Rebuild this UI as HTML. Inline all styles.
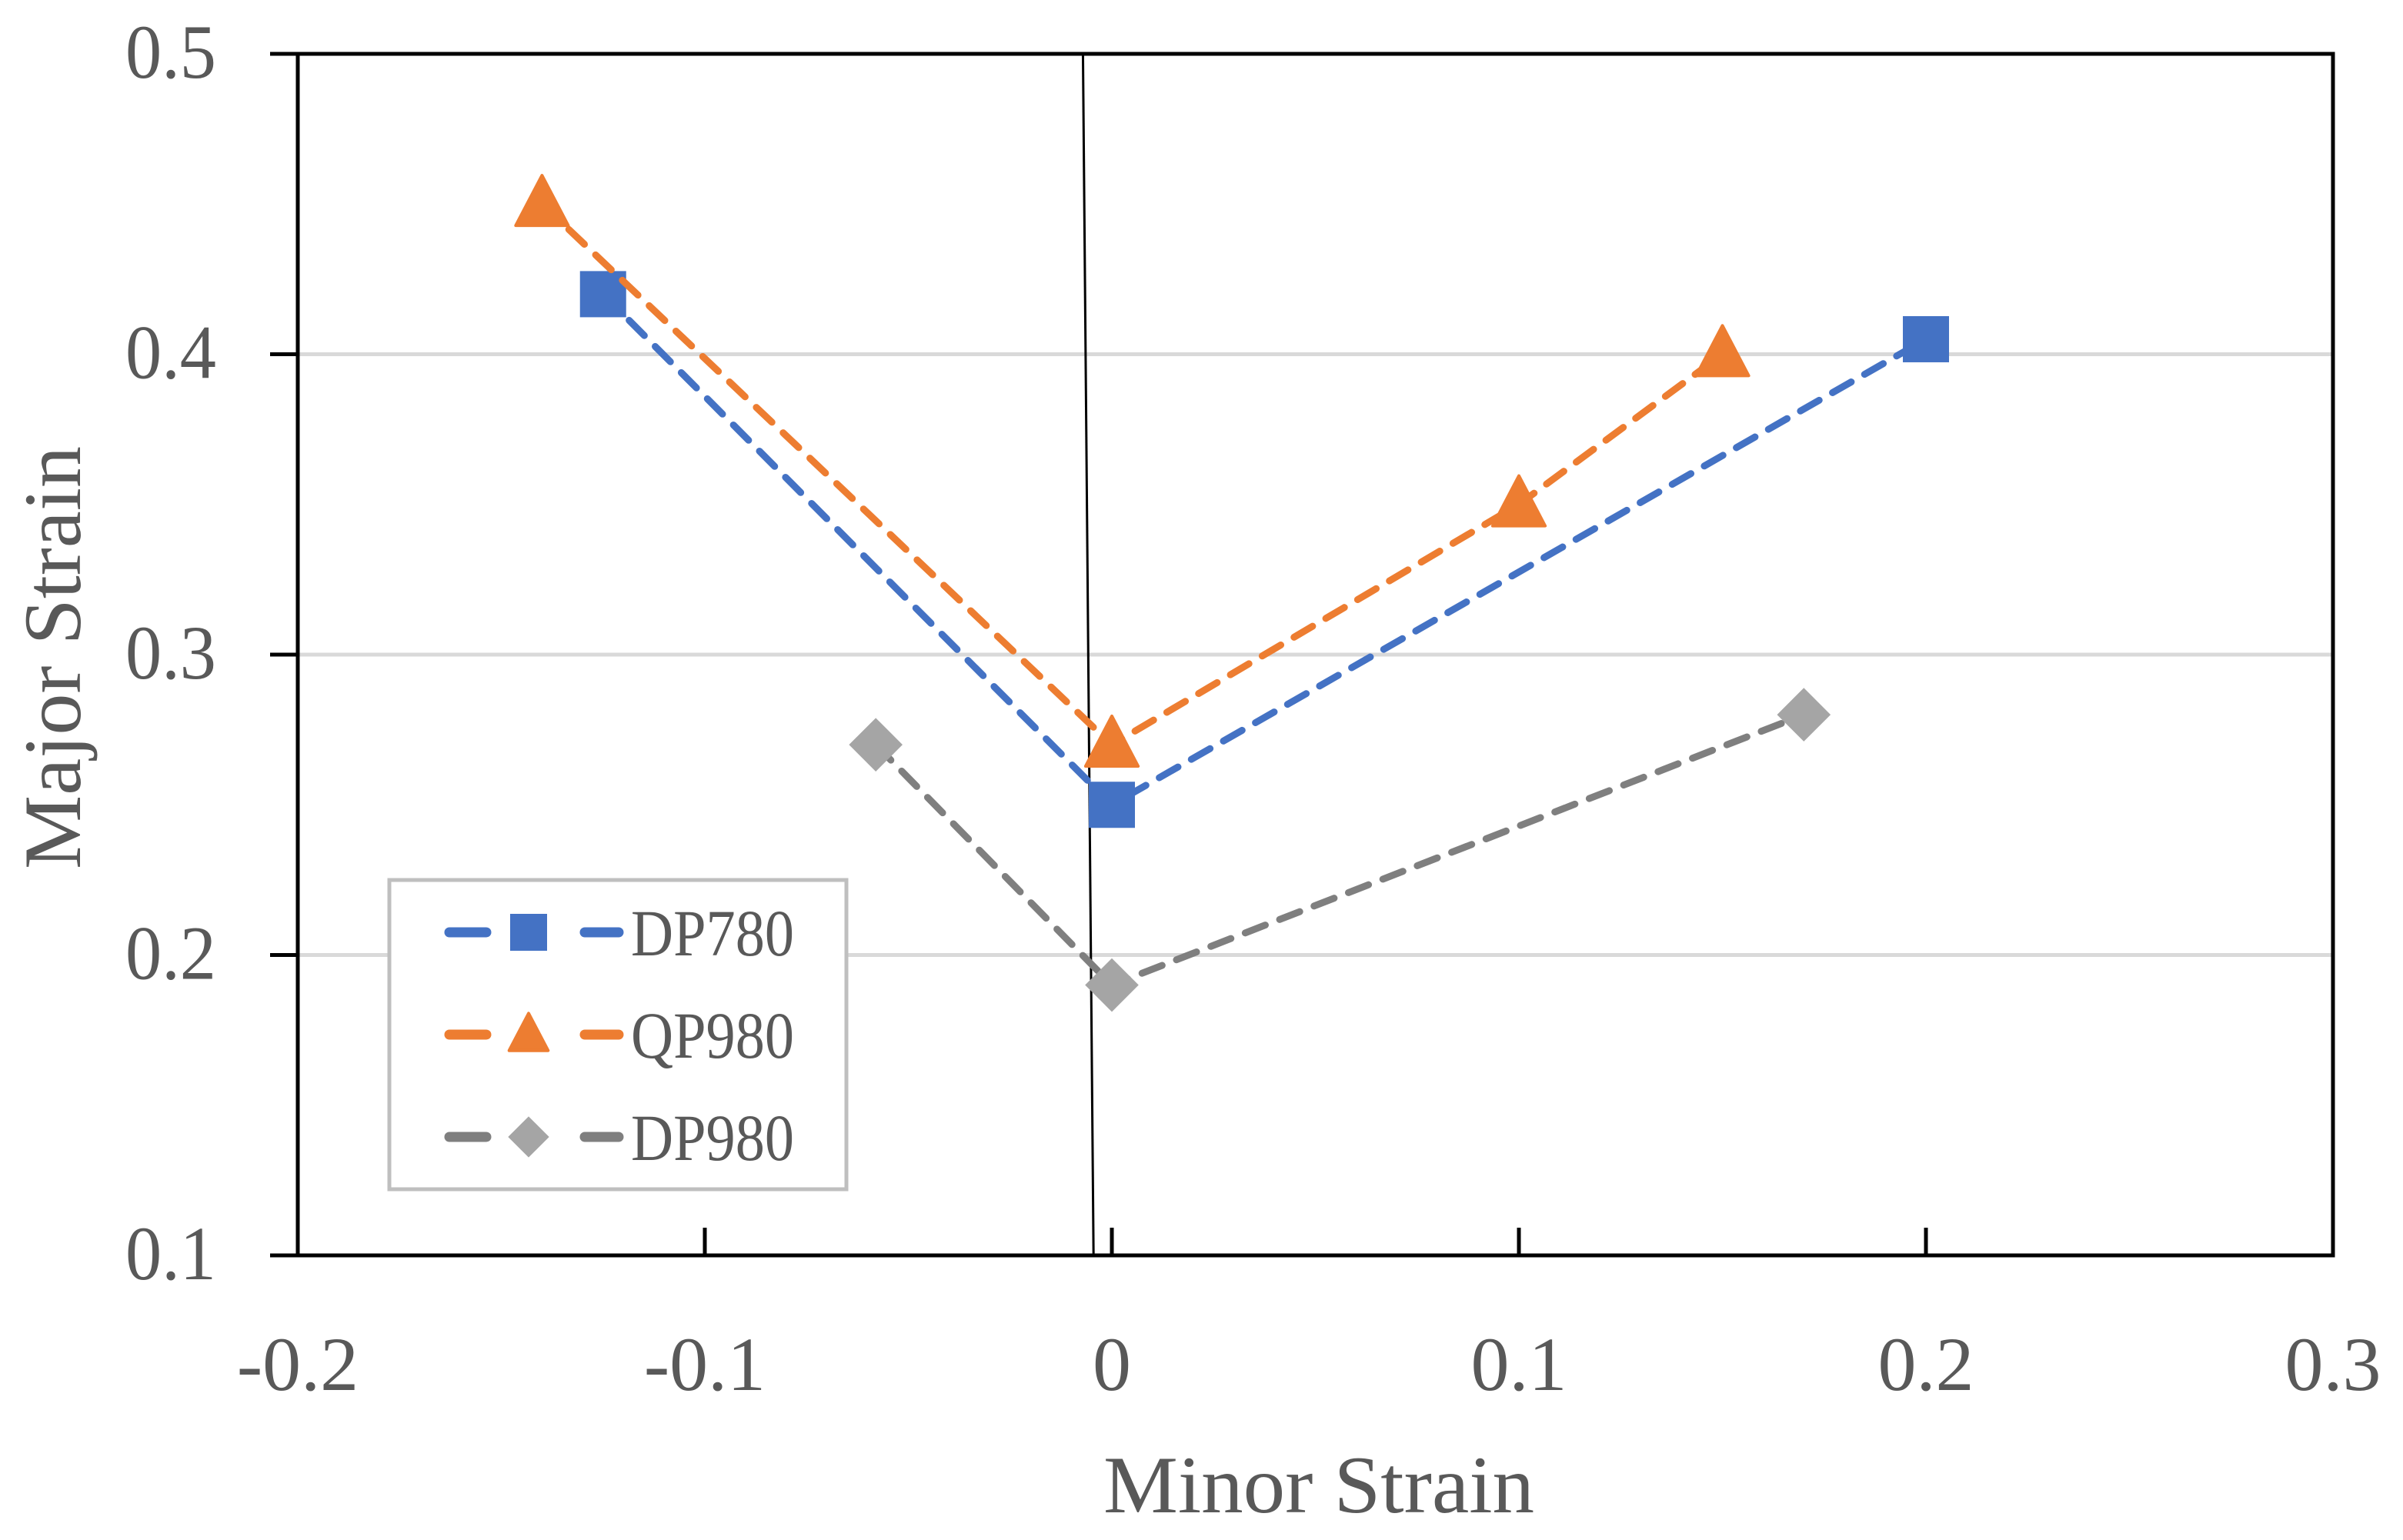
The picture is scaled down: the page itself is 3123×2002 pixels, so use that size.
<!DOCTYPE html>
<html><head><meta charset="utf-8"><style>
html,body{margin:0;padding:0;background:#fff}
svg{display:block}
text{font-family:"Liberation Serif",serif;fill:#595959}
</style></head><body>
<svg id="chart" width="3123" height="2002" viewBox="0 0 3123 2002" xmlns="http://www.w3.org/2000/svg">
<g id="grid"></g>
<g id="axes"></g>
<g id="series"></g>
<text x="1714" y="1966" font-size="106" text-anchor="middle" textLength="560" lengthAdjust="spacingAndGlyphs">Minor Strain</text>
<text x="0" y="0" font-size="106" text-anchor="middle" textLength="550" lengthAdjust="spacingAndGlyphs" transform="translate(104,855) rotate(-90)">Major Strain</text>
<g>
<rect x="506" y="1144" width="594" height="402" fill="#fff" stroke="#bfbfbf" stroke-width="5"/>
<g id="legend"></g>
</g>
</svg>
<script>
const xTicks=[-0.2,-0.1,0,0.1,0.2,0.3];
const xTickLabels=["-0.2","-0.1","0","0.1","0.2","0.3"];
const yTicks=[0.1,0.2,0.3,0.4,0.5];
const yTickLabels=["0.1","0.2","0.3","0.4","0.5"];
const seriesNames=["DP780","QP980","DP980"];
const dp780X=[-0.125,0,0.2];
const dp780Y=[0.42,0.25,0.405];
const qp980X=[-0.14,0,0.1,0.15];
const qp980Y=[0.45,0.27,0.35,0.40];
const dp980X=[-0.058,0,0.17];
const dp980Y=[0.27,0.19,0.28];
const refLineX=[-0.0071,-0.0045];
const refLineY=[0.5,0.1];

const L=387,R=3032,T=70,B=1632;
const xs=v=>L+(v+0.2)/0.5*(R-L);
const ys=v=>B-(v-0.1)/0.4*(B-T);
const NS="http://www.w3.org/2000/svg";
function mk(tag,attrs,parent){const e=document.createElementNS(NS,tag);for(const k in attrs)e.setAttribute(k,attrs[k]);parent.appendChild(e);return e;}
const grid=document.getElementById('grid'),axes=document.getElementById('axes'),ser=document.getElementById('series'),leg=document.getElementById('legend');

yTicks.forEach((t,i)=>{
  if(t>0.1&&t<0.5){const g=mk('line',{x1:L,x2:R,y1:ys(t),y2:ys(t),stroke:'#d9d9d9','stroke-width':5},grid);
  
  }
  const tk=mk('line',{x1:L-36,x2:L,y1:ys(t),y2:ys(t),stroke:'#000','stroke-width':5},axes);
  
  
  const lb=mk('text',{x:281,y:ys(t)+31,'font-size':100,'text-anchor':'end',textLength:118,lengthAdjust:'spacingAndGlyphs'},axes);
  lb.textContent=yTickLabels[i];
  
  
});
xTicks.forEach((t,i)=>{
  const tk=mk('line',{x1:xs(t),x2:xs(t),y1:B-36,y2:B,stroke:'#000','stroke-width':5},axes);
  
  
  const lb=mk('text',{x:xs(t),y:1807,'font-size':100,'text-anchor':'middle'},axes);
  lb.textContent=xTickLabels[i];
  
  
});
const frame=mk('rect',{x:L,y:T,width:R-L,height:B-T,fill:'none',stroke:'#000','stroke-width':5},axes);


const ref=mk('line',{x1:xs(refLineX[0]),y1:ys(refLineY[0]),x2:xs(refLineX[1]),y2:ys(refLineY[1]),stroke:'#000','stroke-width':3},axes);



function marker(type,cx,cy,color,parent,s){
  let e;
  if(type==='square')e=mk('rect',{x:cx-s/2,y:cy-s/2,width:s,height:s,fill:color},parent);
  else if(type==='triangle')e=mk('polygon',{points:`${cx},${cy-s*0.6} ${cx+s*0.55},${cy+s*0.45} ${cx-s*0.55},${cy+s*0.45}`,fill:color,'stroke':color,'stroke-width':4,'stroke-linejoin':'round'},parent);
  else e=mk('polygon',{points:`${cx},${cy-s*0.58} ${cx+s*0.58},${cy} ${cx},${cy+s*0.58} ${cx-s*0.58},${cy}`,fill:color},parent);
  return e;
}
const defs=[
 {X:dp780X,Y:dp780Y,line:'#4472c4',fill:'#4472c4',m:'square',s:60},
 {X:qp980X,Y:qp980Y,line:'#ed7d31',fill:'#ed7d31',m:'triangle',s:62},
 {X:dp980X,Y:dp980Y,line:'#7f7f7f',fill:'#a5a5a5',m:'diamond',s:60}
];
defs.forEach((d,si)=>{
  const pts=d.X.map((x,i)=>xs(x)+','+ys(d.Y[i])).join(' ');
  const pl=mk('polyline',{points:pts,fill:'none',stroke:d.line,'stroke-width':9,'stroke-dasharray':'28 20','stroke-linecap':'round'},ser);
  
  
  d.X.forEach((x,i)=>{
    const m=marker(d.m,xs(x),ys(d.Y[i]),d.fill,ser,d.s);
    
    
  });
  const ly=1212+si*133;
  const g=mk('g',{},leg);
  
  
  mk('line',{x1:584,x2:632,y1:ly,y2:ly,stroke:d.line,'stroke-width':13,'stroke-linecap':'round'},g);
  mk('line',{x1:760,x2:804,y1:ly,y2:ly,stroke:d.line,'stroke-width':13,'stroke-linecap':'round'},g);
  marker(d.m,687,ly,d.fill,g,d.m==='square'?48:46);
  const t=mk('text',{x:820,y:ly+30,'font-size':86,textLength:212,lengthAdjust:'spacingAndGlyphs'},g);
  t.textContent=seriesNames[si];
});
</script>
</body></html>
